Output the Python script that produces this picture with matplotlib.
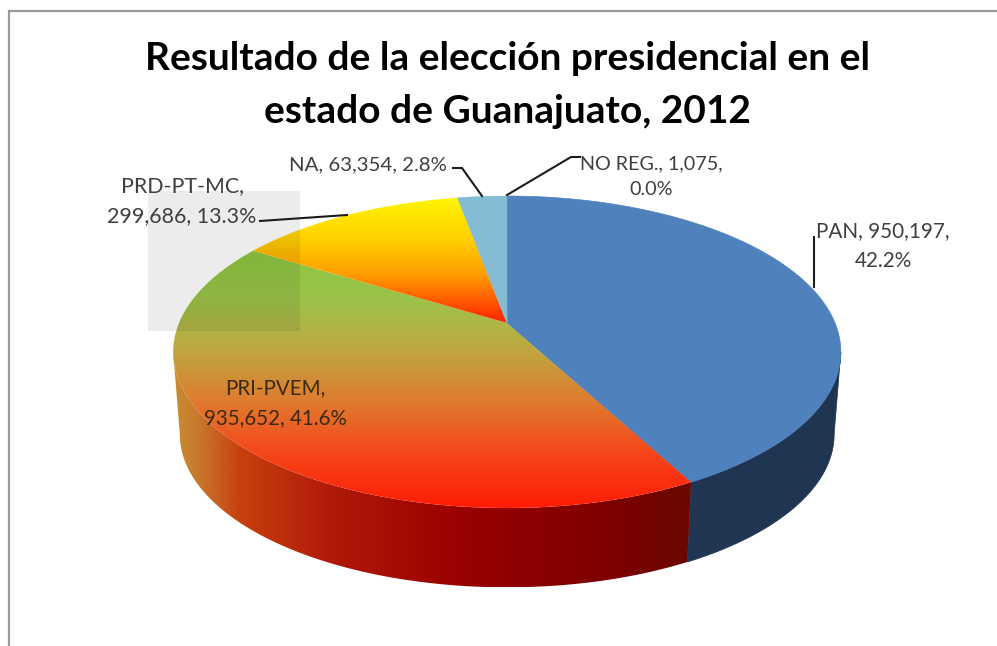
import numpy as np
import matplotlib
matplotlib.use("Agg")
import matplotlib.pyplot as plt
from matplotlib.colors import to_rgb
from matplotlib.patches import Polygon, Rectangle

names = ["PAN", "PRI-PVEM", "PRD-PT-MC", "NA", "NO REG."]
votes = [950197, 935652, 299686, 63354, 1075]
title = "Resultado de la elección presidencial en el\nestado de Guanajuato, 2012"

# where the line breaks in each label, and where it sits (pixels)
breaks = ["{}, {},\n{}", "{},\n{}, {}", "{},\n{}, {}", "{}, {}, {}", "{}, {},\n{}"]
label_xy = [(883, 246), (275, 403), (182, 201), (368, 165), (651, 177)]
label_size = [14.9, 14.8, 15.4, 14.7, 14.2]
leaders = [
    [(814, 237), (814, 287)],
    None,
    [(260, 221), (347, 215)],
    [(453, 168), (462, 168), (482, 196)],
    [(580, 157), (571, 157), (507, 195)],
]

# pie geometry, perspective of a tilted disc
APEX = (507, 323)
A, B, K = 328.0, 150.6, 0.186
DROP, SHRINK = 83, 0.98
# angle where the rim is widest, the walls start there
WIDEST = np.degrees(np.arccos(-K))


def project(theta, bottom=False):
    # theta in degrees, clockwise from the top of the disc
    t = np.radians(theta)
    u, v = np.sin(t), np.cos(t)
    w = 1 + K * v
    s = SHRINK if bottom else 1.0
    d = DROP if bottom else 0
    return APEX[0] + s * A * u / w, APEX[1] + d - s * B * v / w


def top_face(t1, t2):
    th = np.linspace(t1, t2, 200)
    x, y = project(th)
    return np.column_stack([np.r_[APEX[0], x], np.r_[APEX[1], y]])


def side_wall(t1, t2):
    th = np.linspace(t1, t2, 200)
    x1, y1 = project(th)
    x2, y2 = project(th[::-1], bottom=True)
    return np.column_stack([np.r_[x1, x2], np.r_[y1, y2]])


def gradient_fill(ax, verts, stops, vertical=True, zorder=2):
    xs, ys = verts[:, 0], verts[:, 1]
    pos = [p for p, c in stops]
    rgb = np.array([to_rgb(c) for p, c in stops])
    if vertical:
        grid = np.linspace(ys.min(), ys.max(), 500)
    else:
        grid = np.linspace(xs.min(), xs.max(), 500)
    ramp = np.column_stack([np.interp(grid, pos, rgb[:, i]) for i in range(3)])
    ramp = ramp[:, None, :] if vertical else ramp[None, :, :]
    im = ax.imshow(ramp, aspect="auto", zorder=zorder, origin="upper",
                   extent=[xs.min(), xs.max(), ys.max(), ys.min()])
    clip = Polygon(verts, closed=True, fc="none", ec="none", transform=ax.transData)
    ax.add_patch(clip)
    im.set_clip_path(clip)


fig = plt.figure(figsize=(9.97, 6.46), dpi=100)
ax = fig.add_axes([0, 0, 1, 1])

total = sum(votes)
edges = np.r_[0, np.cumsum(votes)] / total * 360

pan_side = "#1f3552"
pri_side = [(173, "#c88e34"), (200, "#c8762c"), (240, "#c8400f"), (330, "#b01a08"),
            (460, "#9a0000"), (600, "#800000"), (691, "#6a0800")]
pri_top = [(252, "#8cc63e"), (300, "#9cc34a"), (345, "#bcab42"), (400, "#de7d30"),
           (450, "#f4491c"), (508, "#ff1c05")]
prd_top = [(198, "#fff500"), (240, "#ffd000"), (275, "#ff9c00"), (323, "#ff2000")]
na_top = "#83bcd3"
pan_top = "#4f81bd"
noreg_top = "#83bcd3"

# walls first, the faces go over them
ax.add_patch(Polygon(side_wall(WIDEST, edges[1]), closed=True, fc=pan_side, ec=pan_side, lw=0.5, zorder=1))
gradient_fill(ax, side_wall(edges[1], 360 - WIDEST), pri_side, vertical=False, zorder=1)

ax.add_patch(Polygon(top_face(edges[0], edges[1]), closed=True, fc=pan_top, ec=pan_top, lw=0.5, zorder=2))
gradient_fill(ax, top_face(edges[1], edges[2]), pri_top, zorder=2)
gradient_fill(ax, top_face(edges[2], edges[3]), prd_top, zorder=2)
ax.add_patch(Polygon(top_face(edges[3], edges[4]), closed=True, fc=na_top, ec=na_top, lw=0.3, zorder=3))
ax.add_patch(Polygon(top_face(edges[4], edges[5]), closed=True, fc=noreg_top, ec=noreg_top, lw=0.3, zorder=3))

# pale square left over in the picture
ax.add_patch(Rectangle((148, 191), 152, 140, fc="black", alpha=0.075, ec="none", zorder=4))

# frame
ax.plot([8.5, 8.5, 997], [646, 10.5, 10.5], color="#9a9a9a", lw=1.6, zorder=1, solid_joinstyle="miter")

for i, name in enumerate(names):
    pct = f"{votes[i] / total * 100:.1f}%"
    txt = breaks[i].format(name, f"{votes[i]:,}", pct)
    ink = "#3c2a12" if name == "PRI-PVEM" else "#3f3f3f"
    ax.text(label_xy[i][0], label_xy[i][1], txt, family="Lato", fontsize=label_size[i], color=ink,
            ha="center", va="center", linespacing=1.6, zorder=6)
    if leaders[i]:
        lx, ly = zip(*leaders[i])
        ax.plot(lx, ly, color="#1c1c1c", lw=1.5, zorder=5, solid_joinstyle="miter")

ax.text(507, 85, title, family="Lato", fontweight="bold", fontsize=28, color="black",
        ha="center", va="center", linespacing=1.63, zorder=6)

ax.set_xlim(0, 997)
ax.set_ylim(646, 0)
ax.axis("off")
fig.savefig("out.png", dpi=100, facecolor="white")
